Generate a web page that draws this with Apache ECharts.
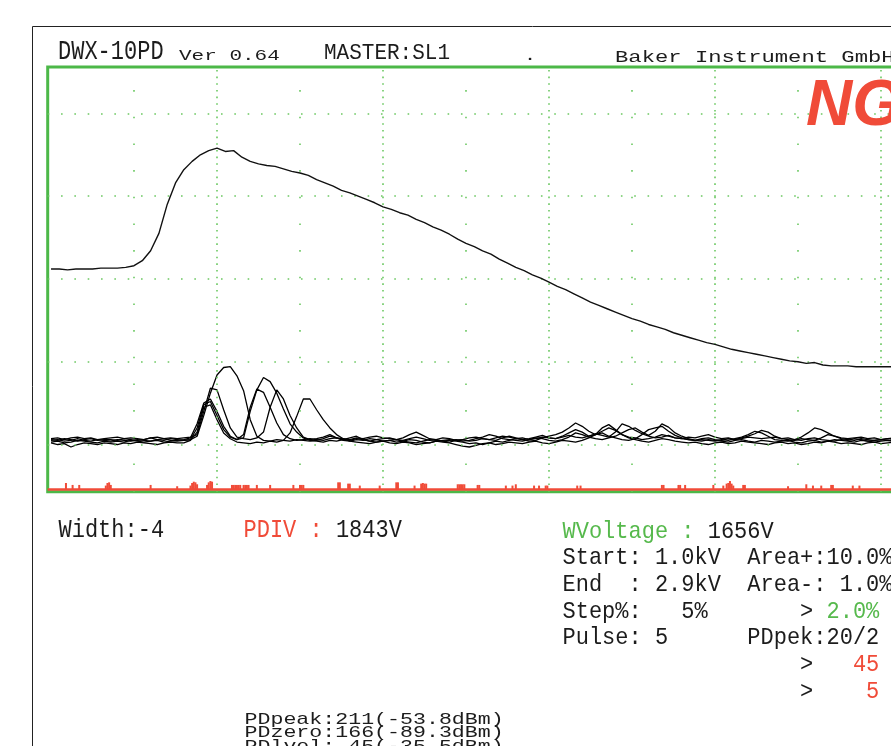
<!DOCTYPE html>
<html>
<head>
<meta charset="utf-8">
<script src="https://cdn.jsdelivr.net/npm/echarts@6.0.0/dist/echarts.min.js"></script>
<style>
  html, body { margin: 0; padding: 0; background: #fff; overflow: hidden; width: 891px; height: 746px; }
  #main { width: 1100px; height: 746px; }
</style>
</head>
<body>
<div id="main"></div>
<script>
// Screen scale: one division = 100 units on both axes.
// Horizontal sample spacing of each acquired trace, in units.
const HV_STEP = 5;
const PD_STEP = 4;

// Surge voltage waveform (divisions x 100)
const hvTrace = [
  212, 212, 211, 212, 212, 212, 213, 213, 213, 214,
  216, 222, 234, 255, 290, 316, 332, 342, 350, 355,
  358, 354, 355, 347, 342, 339, 337, 336, 333, 330,
  328, 325, 320, 316, 312, 307, 304, 300, 296, 292,
  287, 284, 280, 277, 272, 268, 263, 259, 254, 248,
  243, 239, 234, 230, 224, 219, 214, 210, 205, 201,
  196, 191, 187, 182, 177, 172, 168, 164, 160, 156,
  152, 149, 145, 142, 139, 135, 132, 129, 126, 123,
  121, 118, 115, 113, 111, 109, 107, 105, 103, 101,
  100, 98, 99, 96, 95, 95, 95, 94, 94, 94,
  94, 94, 94
];

// Partial discharge sensor traces, one per surge pulse
const pdTrace1 = [
  6, 5, 7, 6, 4, 6, 7, 5, 6, 6,
  5, 7, 6, 5, 6, 8, 6, 5, 7, 6,
  5, 6, 20, 48, 52, 35, 18, 9, 6, 12,
  45, 67, 63, 45, 26, 12, 7, 5, 6, 7,
  6, 5, 7, 8, 6, 5, 7, 6, 4, 6,
  7, 8, 6, 5, 7, 9, 7, 5, 6, 4,
  3, 5, 6, 4, 5, 7, 6, 5, 8, 10,
  8, 6, 7, 9, 11, 8, 7, 10, 14, 18,
  15, 10, 12, 20, 24, 18, 12, 9, 8, 6,
  7, 9, 12, 10, 8, 7, 6, 5, 7, 8,
  6, 5, 7, 6, 8, 10, 13, 17, 15, 10,
  7, 6, 5, 7, 6, 5, 8, 12, 10, 7,
  6, 5, 7, 6, 5, 6, 7, 6
];
const pdTrace2 = [
  3, 4, 2, 3, 5, 4, 3, 2, 4, 3,
  4, 3, 5, 4, 3, 4, 5, 3, 4, 5,
  6, 8, 25, 50, 55, 40, 22, 10, 6, 8,
  40, 66, 81, 76, 62, 43, 25, 15, 8, 5,
  4, 3, 5, 4, 6, 8, 10, 6, 4, 3,
  4, 5, 3, 4, 6, 5, 3, 2, 4, 5,
  6, 4, 3, 1, 2, 0, 2, 4, 3, 5,
  7, 6, 4, 5, 8, 10, 12, 15, 20, 26,
  22, 16, 12, 14, 10, 8, 6, 5, 7, 12,
  18, 20, 22, 16, 11, 8, 6, 5, 4, 6,
  5, 4, 3, 5, 6, 4, 3, 5, 4, 3,
  4, 5, 3, 2, 4, 5, 3, 4, 6, 5,
  4, 3, 5, 4, 3, 4, 5, 4
];
const pdTrace3 = [
  7, 8, 6, 8, 9, 7, 8, 6, 7, 8,
  9, 7, 8, 7, 6, 8, 9, 7, 8, 7,
  8, 9, 12, 40, 68, 66, 42, 20, 9, 7,
  6, 8, 15, 45, 66, 55, 35, 20, 9, 6,
  7, 9, 12, 8, 7, 6, 8, 7, 9, 10,
  8, 7, 6, 8, 12, 15, 11, 7, 6, 8,
  7, 5, 6, 8, 9, 7, 6, 8, 10, 9,
  7, 8, 6, 7, 9, 8, 7, 9, 11, 9,
  8, 10, 13, 11, 9, 15, 25, 22, 17, 13,
  10, 8, 9, 11, 8, 7, 9, 8, 10, 12,
  9, 7, 8, 6, 7, 9, 8, 7, 8, 9,
  7, 8, 6, 9, 14, 20, 18, 14, 10, 8,
  7, 8, 9, 7, 8, 6, 7, 8
];
const pdTrace4 = [
  2, 0, 1, -3, 0, 2, 1, 0, 2, 1,
  0, 2, 1, 3, 2, 1, 0, 2, 3, 2,
  2, 5, 15, 45, 48, 30, 14, 7, 3, 2,
  1, 3, 2, 4, 3, 5, 14, 34, 55, 55,
  42, 30, 20, 12, 7, 4, 3, 2, 1, 3,
  4, 2, 1, 3, 2, 0, 1, 2, 4, 3,
  2, 0, -2, -3, -1, 1, 2, 0, 1, 3,
  2, 1, 3, 4, 2, 1, 3, 5, 4, 3,
  5, 8, 12, 16, 20, 17, 12, 8, 6, 4,
  3, 5, 7, 6, 4, 3, 2, 3, 1, 0,
  2, 3, 1, 2, 4, 3, 2, 1, 0, 2,
  3, 1, 2, 0, 1, 3, 2, 4, 3, 1,
  2, 1, 0, 2, 3, 1, 2, 3
];
const pdTrace5 = [
  5, 6, 4, 5, 7, 5, 4, 6, 5, 4,
  6, 5, 4, 6, 5, 4, 6, 7, 5, 4,
  5, 6, 10, 35, 62, 84, 93, 94, 83, 65,
  30, 10, 5, 4, 6, 5, 4, 6, 5, 4,
  5, 7, 10, 8, 5, 4, 6, 5, 7, 6,
  4, 5, 6, 4, 3, 2, 4, 6, 5, 4,
  5, 6, 4, 5, 7, 9, 12, 10, 7, 6,
  5, 4, 6, 8, 7, 5, 4, 6, 9, 14,
  12, 9, 7, 6, 8, 10, 14, 18, 20, 15,
  11, 16, 25, 21, 14, 10, 7, 5, 6, 5,
  4, 6, 5, 7, 9, 12, 16, 14, 10, 6,
  5, 4, 6, 5, 7, 8, 6, 5, 4, 6,
  5, 7, 6, 4, 5, 6, 5, 4
];

// PD detection markers along the time base (position, relative level)
const pdHitX = [
  9, 13, 17, 33, 34, 35, 36, 60, 76, 84, 85, 86, 87, 88,
  94, 95, 96, 97, 109, 110, 111, 112, 113, 114, 116, 117, 118, 119,
  124, 132, 146, 150, 151, 152, 173, 174, 179, 180, 186, 198,
  208, 209, 219, 223, 224, 225, 226, 245, 246, 247, 248, 249,
  257, 258, 274, 278, 280, 291, 294, 298, 299, 317, 319,
  368, 369, 378, 379, 382, 399, 405, 407, 408, 409, 410, 411,
  417, 418, 444, 455, 459, 464, 470, 471, 483, 487
];
const pdHitLevel = [
  1.0, 0.7, 0.7, 0.6, 1.0, 1.1, 0.7, 0.7, 0.5, 0.6, 1.0, 1.2, 1.1, 0.8,
  0.7, 1.1, 1.3, 1.2, 0.7, 0.7, 0.7, 0.7, 0.7, 0.7, 0.7, 0.7, 0.7, 0.7,
  0.7, 0.7, 0.7, 0.7, 0.7, 0.7, 1.1, 1.1, 0.9, 0.9, 0.6, 0.6,
  1.1, 1.1, 0.6, 0.9, 1.0, 0.9, 0.9, 0.8, 0.8, 0.8, 0.8, 0.8,
  0.7, 0.7, 0.6, 0.6, 0.8, 0.6, 0.6, 0.6, 0.6, 0.6, 0.6,
  0.7, 0.7, 0.7, 0.7, 0.7, 0.7, 0.6, 0.9, 1.0, 1.3, 0.9, 0.6,
  0.7, 0.7, 0.5, 0.8, 0.6, 0.6, 0.7, 0.7, 0.6, 0.6
];

// Graticule
const majorX = [100, 200, 300, 400, 500];
const majorY = [0, 100, 200, 300, 400];
const minorX = [50, 150, 250, 350, 450, 550];

// Readout texts
const headerTitle = 'DWX-10PD';
const headerVersion = 'Ver 0.64';
const headerMaster = 'MASTER:SL1';
const headerMaker = 'Baker Instrument GmbH';
const verdict = 'NG';
const pdLevels = ['PDpeak:211(-53.8dBm)', 'PDzero:166(-89.3dBm)', 'PDlvel: 45(-35.5dBm)'];

const BLACK = '#1c1c1c';
const GREEN = '#56b94c';
const RED = '#f04b38';
const FRAME_GREEN = '#4cb848';
const DOT_GREEN = '#6cc862';
const MONO = '"Liberation Mono", "DejaVu Sans Mono", monospace';

// Right-hand readout, laid out on a fixed character grid
const readoutRows = [
  [['WVoltage :', GREEN, 0], ['1656V', BLACK, 11]],
  [['Start: 1.0kV', BLACK, 0], ['Area+:10.0%', BLACK, 14]],
  [['End  : 2.9kV', BLACK, 0], ['Area-: 1.0%', BLACK, 14]],
  [['Step%:   5%', BLACK, 0], ['>', BLACK, 18], ['2.0%', GREEN, 20]],
  [['Pulse: 5', BLACK, 0], ['PDpek:20/2', BLACK, 14]],
  [['>', BLACK, 18], ['45', RED, 22]],
  [['>', BLACK, 18], ['5', RED, 23]]
];

function txt(text, x, y, size, color, sy, extra) {
  return Object.assign({
    type: 'text', x: x, y: y, scaleX: 1, scaleY: sy, silent: true, z: 50,
    style: {
      text: text, font: size + 'px ' + MONO, fill: color,
      align: 'left', verticalAlign: 'middle', textVerticalAlign: 'middle'
    }
  }, extra || {});
}

const graphics = [
  { type: 'rect', silent: true, z: 1,
    shape: { x: 32.5, y: 26.5, width: 1000, height: 1000 },
    style: { fill: 'none', stroke: '#222', lineWidth: 1 } },
  txt(headerTitle, 58, 51.8, 22, BLACK, 1.29),
  txt(headerVersion, 179, 56.2, 21, BLACK, 0.67),
  txt(headerMaster, 324, 53.5, 21, BLACK, 1.03),
  txt('.', 523.7, 56.5, 21, BLACK, 0.67),
  txt(headerMaker, 615, 57.5, 22.2, BLACK, 0.78),
  { type: 'text', x: 806, y: 107, silent: true, z: 60,
    style: { text: verdict, font: 'italic bold 64px "Liberation Sans", Arial, sans-serif',
      fill: RED, align: 'left', verticalAlign: 'middle', textVerticalAlign: 'middle' } },
  txt('Width:-4', 58.5, 530.3, 22, BLACK, 1.2),
  txt('PDIV :', 243.5, 530.3, 22, RED, 1.2),
  txt('1843V', 243.5 + 7 * 13.2, 530.3, 22, BLACK, 1.2)
];
readoutRows.forEach(function (row, r) {
  const y = 529.7 + r * 26.67 + 1.7;
  row.forEach(function (seg) {
    graphics.push(txt(seg[0], 562.5 + seg[2] * 13.2, y, 22, seg[1], 1.1));
  });
});
pdLevels.forEach(function (line, r) {
  graphics.push(txt(line, 244.5, 718.7 + r * 13.5 + 0.9, 21.6, BLACK, 0.74));
});

function sampled(values, step) {
  return values.map(function (v, i) { return [i * step, v]; });
}

const gridMarks = []
  .concat(majorX.map(function (v) {
    return { xAxis: v, lineStyle: { type: [1.6, 5.07], width: 1.6, color: DOT_GREEN } };
  }))
  .concat(majorY.map(function (v) {
    return { yAxis: v, lineStyle: { type: [1.6, 11.73], width: 1.6, color: DOT_GREEN } };
  }))
  .concat(minorX.map(function (v) {
    return { xAxis: v, lineStyle: { type: [1.6, 25.07], width: 1.6, color: DOT_GREEN } };
  }));

const pdSeries = [pdTrace1, pdTrace2, pdTrace3, pdTrace4, pdTrace5].map(function (tr, i) {
  return {
    name: 'PD ' + (i + 1), type: 'line', z: 4,
    data: sampled(tr, PD_STEP),
    showSymbol: false, symbol: 'none',
    lineStyle: { color: '#000', width: 1.3 },
    emphasis: { disabled: true }
  };
});

const chart = echarts.init(document.getElementById('main'), null, { renderer: 'canvas' });
chart.setOption({
  animation: false,
  backgroundColor: '#ffffff',
  grid: {
    left: 47.7, top: 67, width: 999.3, height: 424.7,
    show: true, borderColor: FRAME_GREEN, borderWidth: 3, backgroundColor: 'transparent',
    containLabel: false
  },
  xAxis: {
    type: 'value', min: -2, max: 600, show: false,
    splitLine: { show: false }
  },
  yAxis: [
    { type: 'value', min: -57, max: 456, show: false, splitLine: { show: false } },
    { type: 'value', min: -0.34, max: 65, show: false, splitLine: { show: false } }
  ],
  graphic: { elements: graphics },
  series: [
    {
      name: 'graticule', type: 'line', data: [], z: 1, silent: true,
      markLine: {
        silent: true, animation: false, symbol: ['none', 'none'],
        label: { show: false }, emphasis: { disabled: true },
        data: gridMarks
      }
    },
    {
      name: 'Voltage', type: 'line', z: 5,
      data: sampled(hvTrace, HV_STEP),
      showSymbol: false, symbol: 'none',
      lineStyle: { color: '#111', width: 1.4 },
      emphasis: { disabled: true }
    }
  ].concat(pdSeries).concat([
    {
      name: 'PD hits', type: 'bar', yAxisIndex: 1, z: 3,
      data: pdHitX.map(function (x, i) { return [x, pdHitLevel[i]]; }),
      barWidth: 2, itemStyle: { color: RED },
      emphasis: { disabled: true },
      markLine: {
        silent: true, animation: false, symbol: ['none', 'none'],
        label: { show: false }, emphasis: { disabled: true },
        data: [{ yAxis: 0, lineStyle: { type: 'solid', width: 2.5, color: RED } }]
      }
    }
  ])
});
</script>
</body>
</html>
